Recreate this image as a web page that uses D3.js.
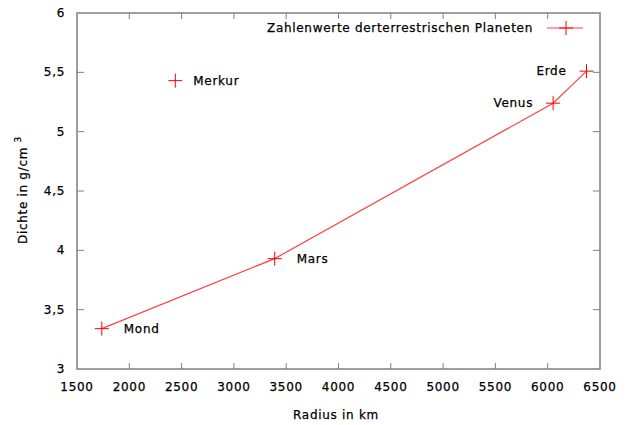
<!DOCTYPE html>
<html><head><meta charset="utf-8">
<script src="https://cdn.jsdelivr.net/npm/d3@7"></script>
<style>body{margin:0;background:#fff}svg{display:block;font-family:"DejaVu Sans",sans-serif}
text{letter-spacing:0.7px;stroke:#000;stroke-width:0.25px;fill:#000}</style>
</head><body><svg id="c" width="627" height="425"></svg>
<script>
const lineNames = ["Mond","Mars","Venus","Erde"];
const lineRadius = [1737,3390,6052,6371];
const lineDensity = [3.34,3.93,5.24,5.51];
const extraNames = ["Merkur"];
const extraRadius = [2440];
const extraDensity = [5.43];
const xTicks = [1500,2000,2500,3000,3500,4000,4500,5000,5500,6000,6500];
const yTicks = [3,3.5,4,4.5,5,5.5,6];
const legendText = "Zahlenwerte derterrestrischen Planeten";

const svg = d3.select("#c");
const L=77,R=600,T=13,B=369;
const x = d3.scaleLinear().domain([1500,6500]).range([L,R]);
const y = d3.scaleLinear().domain([3,6]).range([B,T]);
const fmt = d => String(d).replace(".",",");
const red="#ff0000", axc="#808080", FS=12;

const g = svg.append("g");
xTicks.forEach(t=>{
  if(t>1500 && t<6500){
    g.append("line").attr("x1",x(t)).attr("x2",x(t)).attr("y1",B).attr("y2",B-6).attr("stroke",axc);
    g.append("line").attr("x1",x(t)).attr("x2",x(t)).attr("y1",T).attr("y2",T+6).attr("stroke",axc);
  }
  g.append("text").attr("x",x(t)).attr("y",B+22).attr("text-anchor","middle").attr("font-size",FS).text(t);
});
yTicks.forEach(t=>{
  if(t>3 && t<6){
    g.append("line").attr("x1",L).attr("x2",L+7).attr("y1",y(t)).attr("y2",y(t)).attr("stroke",axc);
    g.append("line").attr("x1",R).attr("x2",R-7).attr("y1",y(t)).attr("y2",y(t)).attr("stroke",axc);
  }
  g.append("text").attr("x",L-12).attr("y",y(t)+4).attr("text-anchor","end").attr("font-size",FS).text(fmt(t));
});
svg.append("rect").attr("x",L).attr("y",T).attr("width",R-L).attr("height",B-T).attr("fill","none").attr("stroke",axc).attr("stroke-width",1.5);

svg.append("text").attr("x",336).attr("y",419).attr("text-anchor","middle").attr("font-size",FS).text("Radius in km");
const yl = svg.append("text").attr("transform","translate(27,190) rotate(-90)").attr("text-anchor","middle").attr("font-size",FS);
yl.append("tspan").text("Dichte in g/cm ");
yl.append("tspan").attr("font-size",9).attr("dy",-6).text("3");

const pts = lineRadius.map((r,i)=>[r,lineDensity[i]]);
svg.append("path").datum(pts).attr("fill","none").attr("stroke","#ff4040").attr("stroke-width",1.2)
  .attr("d",d3.line().x(d=>x(d[0])).y(d=>y(d[1])));

function cross(cx,cy){
  svg.append("line").attr("x1",cx-7).attr("x2",cx+7).attr("y1",cy).attr("y2",cy).attr("stroke",red);
  svg.append("line").attr("x1",cx).attr("x2",cx).attr("y1",cy-7).attr("y2",cy+7).attr("stroke",red);
}
const allNames = lineNames.concat(extraNames), allR = lineRadius.concat(extraRadius), allD = lineDensity.concat(extraDensity);
allR.forEach((r,i)=>cross(x(r),y(allD[i])));

const labelOffset = {Mond:22,Mars:22,Merkur:18,Venus:-20,Erde:-20};
allNames.forEach((n,i)=>{
  const px=x(allR[i]), py=y(allD[i]);
  const off = labelOffset[n];
  svg.append("text").attr("x", px+off).attr("y", py+4)
    .attr("text-anchor", off>0?"start":"end").attr("font-size",FS).text(n);
});

svg.append("text").attr("x",533).attr("y",32).attr("text-anchor","end").attr("font-size",FS).text(legendText);
svg.append("line").attr("x1",547).attr("x2",583).attr("y1",28).attr("y2",28).attr("stroke","#ff4040").attr("stroke-width",1.2);
cross(566,28);
</script></body></html>
